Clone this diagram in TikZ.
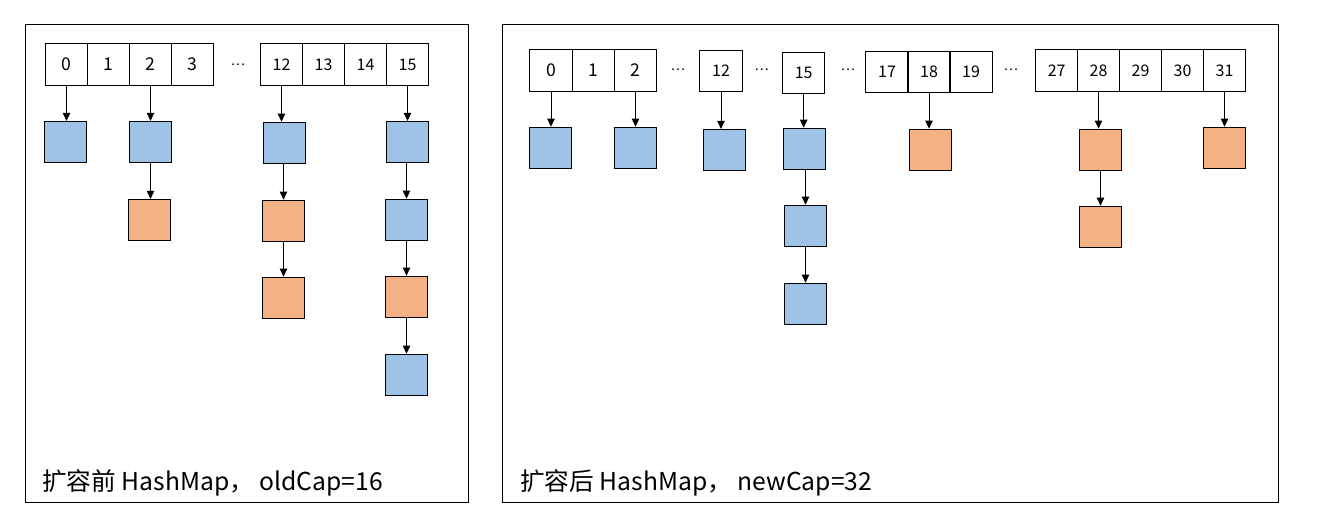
\documentclass[tikz,border=0pt]{standalone}
\usepackage{fontspec}
\setmainfont{Noto Sans CJK SC}
\usetikzlibrary{arrows.meta}
\definecolor{bluefill}{HTML}{9DC3E6}
\definecolor{orangefill}{HTML}{F4B183}
\begin{document}
\begin{tikzpicture}[x=0.75pt,y=-0.75pt,
  frame/.style={draw, line width=0.9pt},
  cell/.style={draw, line width=0.75pt, minimum width=31.6pt, minimum height=30.8pt, inner sep=0pt, outer sep=0pt, font=\fontsize{13.2}{15}\selectfont},
  cellsm/.style={cell, font=\fontsize{12}{14}\selectfont},
  dots/.style={inner sep=0pt, font=\fontsize{10}{12}\selectfont},
  bbox/.style={draw, line width=0.8pt, fill=bluefill, minimum width=31.6pt, minimum height=30.8pt, inner sep=0pt},
  obox/.style={bbox, fill=orangefill},
  arr/.style={line width=0.75pt, -{Triangle[length=6pt,width=5.5pt]}},
  caption/.style={anchor=base west, inner sep=0pt, font=\fontsize{18.5}{21}\selectfont}
]
\fill[white] (0,0) rectangle (1320,530);
\useasboundingbox (0,0) rectangle (1320,530);

% frames
\node[frame, minimum width=332.3pt, minimum height=358.5pt, inner sep=0pt, anchor=north west] (FL) at (25,24) {};
\node[frame, minimum width=582pt, minimum height=358.5pt, inner sep=0pt, anchor=north west] (FR) at (502,24) {};

% ---------- left: oldCap = 16 ----------
\node[cell] (L0) at (66.5,64.5) {0};
\node[cell] (L1) at (108.5,64.5) {1};
\node[cell] (L2) at (150.5,64.5) {2};
\node[cell] (L3) at (192.5,64.5) {3};
\node[dots] (LD) at (238,65) {…};
\node[cellsm] (L12) at (281.5,64.5) {12};
\node[cellsm] (L13) at (323.5,64.5) {13};
\node[cellsm] (L14) at (365.5,64.5) {14};
\node[cellsm] (L15) at (407.5,64.5) {15};

\node[bbox] (LA1) at (65.5,142) {};
\node[bbox] (LB1) at (150.5,142) {};
\node[obox] (LB2) at (149.5,220) {};
\node[bbox] (LC1) at (284.5,142.8) {};
\node[obox] (LC2) at (283.5,220.8) {};
\node[obox] (LC3) at (283.5,297.8) {};
\node[bbox] (LE1) at (407.5,142) {};
\node[bbox] (LE2) at (406.5,219.8) {};
\node[obox] (LE3) at (406.5,296.8) {};
\node[bbox] (LE4) at (406.5,374.8) {};

\draw[arr] (L0.south) -- (L0.south |- LA1.north);
\draw[arr] (L2.south) -- (L2.south |- LB1.north);
\draw[arr] (LB1.south) -- (LB1.south |- LB2.north);
\draw[arr] (L12.south) -- (L12.south |- LC1.north);
\draw[arr] (LC2.north |- LC1.south) -- (LC2.north);
\draw[arr] (LC2.south) -- (LC3.north);
\draw[arr] (L15.south) -- (L15.south |- LE1.north);
\draw[arr] (LE2.north |- LE1.south) -- (LE2.north);
\draw[arr] (LE2.south) -- (LE3.north);
\draw[arr] (LE3.south) -- (LE4.north);

\node[caption] (CL) at (42,490) {扩容前 HashMap，\ oldCap=16};

% ---------- right: newCap = 32 ----------
\node[cell] (R0) at (551,70.5) {0};
\node[cell] (R1) at (593.2,70.5) {1};
\node[cell] (R2) at (635.5,70.5) {2};
\node[dots] (RD1) at (678,70) {…};
\node[cellsm] (R12) at (721,71) {12};
\node[dots] (RD2) at (761.7,70) {…};
\node[cellsm] (R15) at (803.7,72.7) {15};
\node[dots] (RD3) at (848,70) {…};
\node[cellsm] (R17) at (887,71.7) {17};
\node[cellsm] (R18) at (929,71.7) {18};
\node[cellsm] (R19) at (971,71.7) {19};
\node[dots] (RD4) at (1011,70) {…};
\node[cellsm] (R27) at (1056.7,70.5) {27};
\node[cellsm] (R28) at (1098.5,70.5) {28};
\node[cellsm] (R29) at (1140.5,70.5) {29};
\node[cellsm] (R30) at (1182.5,70.5) {30};
\node[cellsm] (R31) at (1224.5,70.5) {31};

\node[bbox] (RA1) at (550.3,147.8) {};
\node[bbox] (RB1) at (635.8,147.8) {};
\node[bbox] (RC1) at (724.5,150) {};
\node[bbox] (RE1) at (804.5,148.8) {};
\node[bbox] (RE2) at (805.5,225.8) {};
\node[bbox] (RE3) at (805.5,303.8) {};
\node[obox] (RF1) at (930.5,149.7) {};
\node[obox] (RG1) at (1100.2,149.7) {};
\node[obox] (RG2) at (1100.5,226.8) {};
\node[obox] (RH1) at (1224.5,147.8) {};

\draw[arr] (R0.south) -- (R0.south |- RA1.north);
\draw[arr] (R2.south) -- (R2.south |- RB1.north);
\draw[arr] (R12.south) -- (R12.south |- RC1.north);
\draw[arr] (R15.south) -- (R15.south |- RE1.north);
\draw[arr] (RE2.north |- RE1.south) -- (RE2.north);
\draw[arr] (RE2.south) -- (RE3.north);
\draw[arr] (R18.south) -- (R18.south |- RF1.north);
\draw[arr] (R28.south) -- (R28.south |- RG1.north);
\draw[arr] (RG2.north |- RG1.south) -- (RG2.north);
\draw[arr] (R31.south) -- (R31.south |- RH1.north);

\node[caption] (CR) at (520,490) {扩容后 HashMap，\ newCap=32};
\end{tikzpicture}
\end{document}
